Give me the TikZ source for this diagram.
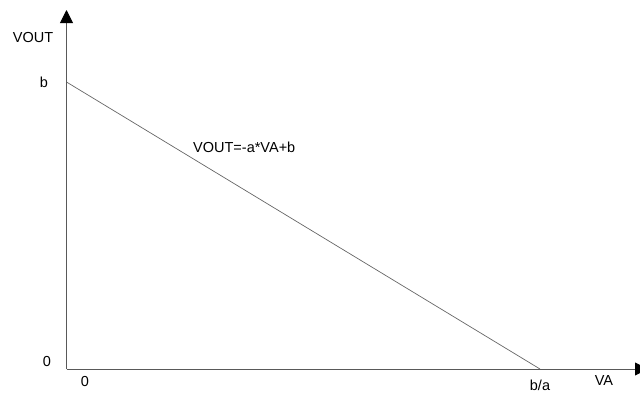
\documentclass[tikz,border=0pt]{standalone}
\usepackage{fontspec}
\setmainfont{Liberation Sans}
\usepackage{tikz}
\usetikzlibrary{arrows.meta}

\begin{document}
\begin{tikzpicture}[x=1pt,y=-1pt]
\tikzstyle{every node} = [inner sep=0pt,font=\fontsize{14.5}{17}\selectfont]
\tikzstyle{axis} = [draw=black!65,line width=0.9pt,-{Triangle[length=13pt,width=13pt,black]}]
\tikzstyle{graph} = [draw=black!60,line width=0.7pt]
\useasboundingbox (0,0) rectangle (640,394);

% axes
\coordinate (orig) at (66.5,369);
\coordinate (ytop) at (66.5,10);
\coordinate (xend) at (648,369);
\draw[axis] (orig) -- (ytop);
\draw[axis] (orig) -- (xend);

% line
\coordinate (bpt) at (66.5,82);
\coordinate (bapt) at (540,369);
\draw[graph] (bpt) -- (bapt);

\node (vout) at (33,38) {VOUT};
\node (va) at (604,381) {VA};
\node (b) at (44,82) {b};
\node (yzero) at (47,362) {0};
\node (xzero) at (85,382) {0};
\node (ba) at (540,385.5) {b/a};
\node[anchor=west] (eqn) at (193,147) {VOUT=-a*VA+b};

\end{tikzpicture}
\end{document}
